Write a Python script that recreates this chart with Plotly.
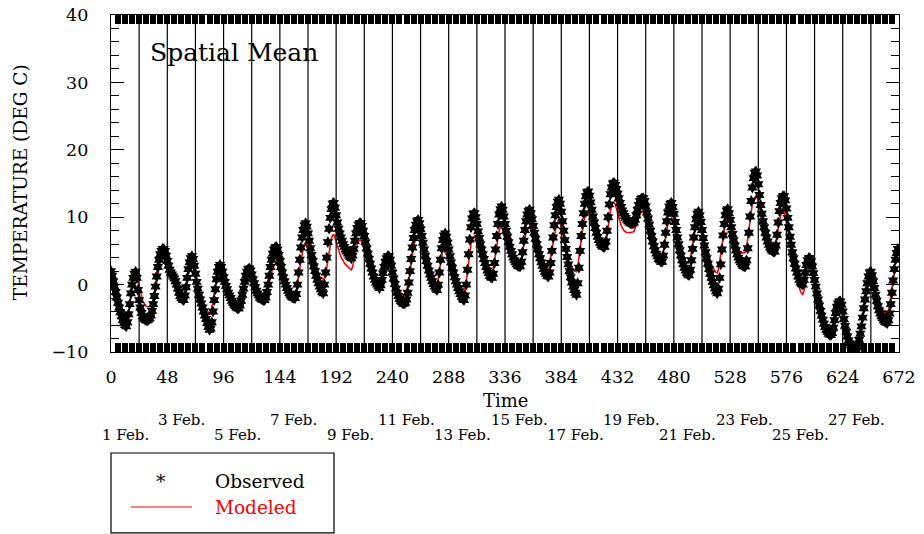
import plotly.graph_objects as go

# Hourly spatial-mean temperature (deg C), 1-28 Feb., one row per day
observed_by_day = [
    [2.0, 1.3, 0.5, -0.3, -1.1, -1.9, -2.7, -3.4, -4.1, -4.7, -5.3, -5.7, -6.0, -6.2, -5.6, -4.4, -2.9, -1.3, 0.0, 1.0, 1.6, 1.9, 1.0, -0.8],
    [-2.3, -3.4, -4.2, -4.7, -5.0, -5.2, -5.3, -5.3, -5.2, -5.0, -4.6, -3.9, -2.9, -1.7, -0.3, 1.2, 2.6, 3.7, 4.5, 5.0, 5.3, 5.3, 5.0, 4.3],
    [3.5, 2.8, 2.2, 1.8, 1.5, 1.2, 0.9, 0.5, 0.0, -0.6, -1.2, -1.7, -2.0, -2.2, -2.3, -1.6, -0.4, 1.0, 2.3, 3.3, 3.9, 4.2, 3.8, 2.8],
    [1.6, 0.4, -0.6, -1.5, -2.2, -2.8, -3.4, -4.0, -4.6, -5.1, -5.7, -6.3, -6.7, -6.5, -5.6, -4.0, -2.3, -0.7, 0.8, 1.9, 2.6, 2.9, 2.6, 1.9],
    [1.1, 0.4, -0.2, -0.7, -1.2, -1.6, -2.0, -2.4, -2.7, -3.0, -3.2, -3.4, -3.5, -3.5, -3.1, -2.4, -1.5, -0.6, 0.4, 1.3, 1.9, 2.3, 2.4, 2.1],
    [1.5, 0.8, 0.2, -0.4, -0.9, -1.3, -1.6, -1.9, -2.1, -2.2, -2.3, -2.3, -1.9, -1.1, 0.0, 1.3, 2.6, 3.7, 4.6, 5.2, 5.5, 5.6, 5.2, 4.4],
    [3.5, 2.6, 1.8, 1.1, 0.5, 0.0, -0.5, -0.9, -1.3, -1.6, -1.8, -1.9, -2.0, -2.0, -1.4, 0.0, 1.8, 3.7, 5.5, 7.0, 8.1, 8.8, 9.1, 8.6],
    [7.6, 6.5, 5.4, 4.4, 3.5, 2.7, 2.0, 1.3, 0.7, 0.2, -0.3, -0.7, -1.1, -1.3, 0.0, 1.8, 4.0, 6.3, 8.3, 9.9, 11.2, 12.0, 12.1, 11.4],
    [10.3, 9.2, 8.3, 7.6, 7.0, 6.5, 6.0, 5.6, 5.2, 4.9, 4.6, 4.3, 4.1, 3.9, 4.3, 5.3, 6.5, 7.6, 8.4, 8.9, 9.1, 9.1, 8.7, 8.0],
    [7.2, 6.3, 5.4, 4.6, 3.8, 3.1, 2.4, 1.8, 1.2, 0.7, 0.3, 0.0, -0.3, -0.5, -0.1, 0.7, 1.7, 2.6, 3.4, 3.9, 4.2, 4.2, 3.7, 2.8],
    [1.8, 0.9, 0.1, -0.6, -1.2, -1.7, -2.1, -2.4, -2.6, -2.8, -2.8, -2.7, -2.2, -1.2, 0.3, 2.0, 3.8, 5.5, 6.9, 8.1, 8.9, 9.4, 9.6, 9.1],
    [8.2, 7.2, 6.2, 5.2, 4.3, 3.5, 2.8, 2.1, 1.5, 1.0, 0.5, 0.1, -0.3, -0.6, -0.8, 0.0, 1.8, 3.7, 5.4, 6.6, 7.3, 7.6, 7.1, 6.2],
    [5.2, 4.2, 3.3, 2.5, 1.8, 1.1, 0.5, 0.0, -0.5, -1.0, -1.4, -1.8, -2.1, -2.3, -1.6, 0.0, 2.2, 4.5, 6.7, 8.5, 9.8, 10.5, 10.6, 10.0],
    [9.0, 7.9, 6.9, 6.0, 5.2, 4.5, 3.8, 3.2, 2.6, 2.1, 1.7, 1.3, 1.1, 1.0, 1.6, 3.2, 5.2, 7.2, 9.0, 10.4, 11.2, 11.6, 11.1, 10.1],
    [9.0, 8.0, 7.1, 6.3, 5.6, 5.0, 4.5, 4.0, 3.6, 3.3, 3.0, 2.8, 2.7, 2.7, 3.4, 4.8, 6.5, 8.1, 9.4, 10.4, 10.9, 11.1, 10.6, 9.7],
    [8.7, 7.7, 6.8, 6.0, 5.2, 4.5, 3.9, 3.3, 2.8, 2.3, 1.9, 1.6, 1.3, 1.2, 1.8, 3.2, 5.0, 7.0, 8.8, 10.3, 11.5, 12.3, 12.6, 12.0],
    [10.8, 9.4, 8.0, 6.6, 5.3, 4.1, 3.0, 2.0, 1.1, 0.3, -0.3, -0.8, -1.2, -1.5, 0.2, 2.5, 5.0, 7.2, 9.0, 10.6, 12.0, 13.1, 13.7, 13.8],
    [13.2, 12.2, 11.1, 10.1, 9.2, 8.4, 7.7, 7.1, 6.6, 6.2, 5.9, 5.7, 5.6, 5.6, 6.4, 8.0, 10.0, 11.9, 13.4, 14.4, 15.0, 15.1, 14.8, 14.2],
    [13.5, 12.8, 12.1, 11.5, 11.0, 10.6, 10.2, 9.9, 9.6, 9.4, 9.2, 9.1, 9.1, 9.1, 9.2, 9.6, 10.3, 11.1, 11.8, 12.4, 12.7, 12.8, 12.8, 12.4],
    [11.6, 10.7, 9.8, 8.9, 8.0, 7.2, 6.4, 5.7, 5.1, 4.6, 4.2, 3.8, 3.6, 3.4, 3.4, 4.3, 5.9, 7.7, 9.4, 10.7, 11.6, 12.0, 12.1, 11.5],
    [10.5, 9.3, 8.1, 7.0, 6.0, 5.1, 4.3, 3.6, 3.0, 2.5, 2.1, 1.7, 1.5, 1.4, 2.2, 3.6, 5.3, 7.0, 8.5, 9.7, 10.5, 10.8, 10.3, 9.3],
    [8.1, 6.9, 5.8, 4.8, 3.9, 3.1, 2.3, 1.6, 1.0, 0.4, -0.1, -0.6, -1.0, -1.3, -0.6, 1.0, 3.0, 5.2, 7.3, 9.0, 10.3, 11.0, 11.2, 10.6],
    [9.6, 8.5, 7.5, 6.6, 5.8, 5.1, 4.5, 4.0, 3.6, 3.3, 3.0, 2.8, 2.7, 2.7, 3.6, 5.4, 7.7, 10.1, 12.4, 14.4, 15.8, 16.6, 16.8, 16.2],
    [14.9, 13.3, 11.8, 10.5, 9.4, 8.5, 7.7, 7.0, 6.4, 5.9, 5.5, 5.2, 5.0, 4.9, 4.9, 5.8, 7.4, 9.2, 10.9, 12.1, 12.8, 13.1, 13.1, 12.5],
    [11.3, 9.9, 8.5, 7.1, 5.9, 4.8, 3.9, 3.1, 2.4, 1.8, 1.2, 0.7, 0.3, 0.1, 0.0, 0.7, 1.8, 2.9, 3.6, 3.9, 3.9, 3.5, 2.7, 1.7],
    [0.7, -0.3, -1.3, -2.2, -3.1, -3.9, -4.6, -5.2, -5.8, -6.3, -6.7, -7.0, -7.3, -7.4, -7.5, -7.2, -6.4, -5.3, -4.2, -3.3, -2.8, -2.5, -2.5, -3.0],
    [-4.0, -5.1, -6.1, -7.0, -7.7, -8.3, -8.7, -9.0, -9.3, -9.4, -9.5, -9.5, -9.3, -8.9, -8.2, -7.3, -6.2, -4.9, -3.5, -2.2, -1.0, 0.2, 1.2, 1.8],
    [1.9, 1.4, 0.5, -0.5, -1.5, -2.4, -3.2, -3.8, -4.3, -4.7, -5.0, -5.3, -5.5, -5.6, -5.7, -5.3, -4.3, -2.9, -1.2, 0.6, 2.3, 3.7, 4.7, 5.3],
]

modeled_by_day = [
    [1.0, 0.5, -0.1, -0.8, -1.5, -2.2, -2.9, -3.5, -4.1, -4.6, -5.0, -5.4, -5.7, -5.8, -5.3, -4.2, -2.8, -1.4, -0.2, 0.8, 1.3, 1.5, 1.2, 0.4],
    [-0.5, -1.3, -1.9, -2.4, -2.7, -3.0, -3.2, -3.3, -3.3, -3.3, -3.2, -2.9, -2.4, -1.6, -0.6, 0.6, 1.7, 2.6, 3.3, 3.7, 4.0, 4.0, 3.8, 3.3],
    [2.8, 2.4, 2.0, 1.7, 1.5, 1.2, 0.9, 0.5, 0.0, -0.5, -1.0, -1.4, -1.7, -1.9, -2.0, -1.4, -0.4, 0.7, 1.7, 2.4, 2.8, 3.0, 2.7, 2.0],
    [1.1, 0.2, -0.6, -1.3, -1.9, -2.4, -2.8, -3.1, -3.4, -3.7, -4.0, -4.2, -4.4, -4.2, -3.5, -2.4, -1.2, 0.0, 1.0, 1.7, 2.2, 2.5, 2.2, 1.7],
    [1.0, 0.4, -0.2, -0.7, -1.1, -1.5, -1.9, -2.2, -2.5, -2.8, -3.0, -3.1, -3.2, -3.2, -2.8, -2.2, -1.4, -0.5, 0.4, 1.2, 1.8, 2.1, 2.2, 1.9],
    [1.4, 0.8, 0.2, -0.3, -0.8, -1.1, -1.4, -1.7, -1.8, -1.9, -2.0, -2.0, -1.7, -1.0, -0.2, 0.7, 1.4, 2.0, 2.5, 2.8, 3.0, 3.0, 2.8, 2.4],
    [2.0, 1.6, 1.2, 0.8, 0.4, 0.1, -0.2, -0.5, -0.8, -1.0, -1.2, -1.4, -1.5, -1.5, -1.1, -0.1, 1.1, 2.4, 3.6, 4.6, 5.4, 5.9, 6.1, 5.8],
    [5.2, 4.6, 4.0, 3.5, 3.0, 2.6, 2.2, 1.9, 1.6, 1.3, 1.1, 1.0, 0.9, 0.8, 1.0, 1.5, 2.5, 3.8, 5.1, 6.2, 6.9, 7.3, 7.4, 7.0],
    [6.3, 5.7, 5.1, 4.6, 4.2, 3.8, 3.5, 3.2, 3.0, 2.8, 2.6, 2.4, 2.3, 2.2, 2.6, 3.4, 4.4, 5.3, 6.0, 6.4, 6.6, 6.6, 6.3, 5.8],
    [5.2, 4.6, 4.0, 3.4, 2.9, 2.4, 1.9, 1.5, 1.1, 0.7, 0.4, 0.1, -0.1, -0.3, 0.0, 0.6, 1.3, 2.0, 2.6, 3.0, 3.2, 3.2, 2.9, 2.3],
    [1.6, 0.9, 0.3, -0.2, -0.6, -0.9, -1.1, -1.3, -1.4, -1.5, -1.5, -1.5, -1.1, -0.3, 0.8, 2.0, 3.3, 4.5, 5.5, 6.3, 6.8, 7.0, 7.1, 6.8],
    [6.2, 5.5, 4.8, 4.1, 3.5, 2.9, 2.4, 1.9, 1.5, 1.1, 0.8, 0.6, 0.4, 0.3, 0.2, 0.8, 2.0, 3.3, 4.4, 5.1, 5.4, 5.5, 5.2, 4.6],
    [3.9, 3.2, 2.5, 1.9, 1.4, 0.9, 0.5, 0.1, -0.2, -0.5, -0.7, -0.9, -1.0, -1.0, -0.5, 0.6, 2.0, 3.5, 4.9, 6.0, 6.7, 7.0, 7.1, 6.7],
    [6.1, 5.5, 4.9, 4.4, 3.9, 3.5, 3.1, 2.8, 2.5, 2.2, 2.0, 1.8, 1.7, 1.7, 2.3, 3.5, 4.9, 6.2, 7.3, 8.0, 8.4, 8.6, 8.3, 7.7],
    [7.0, 6.3, 5.7, 5.2, 4.7, 4.3, 4.0, 3.7, 3.5, 3.4, 3.3, 3.2, 3.2, 3.2, 3.8, 4.8, 6.0, 7.0, 7.8, 8.3, 8.5, 8.6, 8.3, 7.8],
    [7.2, 6.6, 6.0, 5.5, 5.0, 4.6, 4.2, 3.8, 3.5, 3.2, 3.0, 2.8, 2.7, 2.7, 3.2, 4.2, 5.4, 6.6, 7.6, 8.4, 9.0, 9.4, 9.6, 9.2],
    [8.4, 7.5, 6.6, 5.8, 5.0, 4.3, 3.7, 3.2, 2.8, 2.5, 2.2, 2.0, 1.9, 1.9, 2.6, 4.0, 5.6, 7.1, 8.3, 9.2, 9.9, 10.3, 10.5, 10.6],
    [10.3, 9.7, 9.0, 8.4, 7.8, 7.3, 6.9, 6.5, 6.2, 5.9, 5.7, 5.5, 5.4, 5.4, 6.0, 7.2, 8.7, 10.0, 11.0, 11.7, 12.1, 12.2, 11.9, 11.3],
    [10.6, 9.9, 9.3, 8.8, 8.4, 8.1, 7.9, 7.8, 7.7, 7.7, 7.7, 7.7, 7.7, 7.8, 7.9, 8.3, 8.9, 9.5, 10.0, 10.4, 10.7, 10.8, 10.8, 10.5],
    [10.0, 9.4, 8.7, 8.0, 7.4, 6.8, 6.3, 5.8, 5.4, 5.1, 4.8, 4.6, 4.5, 4.4, 4.4, 5.0, 6.1, 7.2, 8.2, 9.0, 9.5, 9.8, 9.9, 9.5],
    [8.8, 8.0, 7.2, 6.5, 5.9, 5.3, 4.8, 4.4, 4.0, 3.7, 3.5, 3.3, 3.2, 3.2, 3.8, 4.9, 6.1, 7.2, 8.1, 8.8, 9.2, 9.4, 9.0, 8.4],
    [7.7, 7.0, 6.3, 5.6, 5.0, 4.4, 3.9, 3.4, 3.0, 2.6, 2.3, 2.0, 1.8, 1.7, 2.2, 3.4, 4.8, 6.2, 7.5, 8.5, 9.3, 9.7, 9.9, 9.5],
    [8.8, 8.1, 7.4, 6.8, 6.3, 5.9, 5.5, 5.2, 5.0, 4.8, 4.7, 4.7, 4.7, 4.8, 5.5, 6.8, 8.3, 9.8, 11.1, 12.1, 12.7, 13.0, 13.1, 13.0],
    [12.4, 11.5, 10.5, 9.6, 8.8, 8.1, 7.5, 7.0, 6.6, 6.2, 5.9, 5.7, 5.5, 5.4, 5.4, 6.1, 7.3, 8.5, 9.5, 10.2, 10.6, 10.8, 10.8, 10.3],
    [9.3, 8.1, 6.9, 5.7, 4.6, 3.6, 2.7, 1.9, 1.2, 0.6, 0.0, -0.5, -1.0, -1.3, -1.5, -0.9, 0.1, 1.0, 1.7, 2.1, 2.2, 1.9, 1.2, 0.4],
    [-0.5, -1.4, -2.3, -3.1, -3.9, -4.6, -5.2, -5.8, -6.3, -6.7, -7.0, -7.2, -7.4, -7.5, -7.5, -7.2, -6.4, -5.4, -4.4, -3.6, -3.1, -2.9, -2.8, -3.2],
    [-4.1, -5.1, -6.0, -6.8, -7.4, -7.9, -8.3, -8.6, -8.8, -8.9, -9.0, -9.0, -9.0, -8.8, -8.3, -7.5, -6.4, -5.1, -3.8, -2.6, -1.6, -0.8, -0.1, 0.3],
    [0.4, 0.1, -0.5, -1.1, -1.6, -2.1, -2.5, -2.9, -3.2, -3.5, -3.8, -4.0, -4.2, -4.3, -4.3, -3.9, -2.8, -1.4, -0.1, 0.9, 1.6, 2.1, 2.4, 2.6],
]

observed = [v for day in observed_by_day for v in day]
modeled = [v for day in modeled_by_day for v in day]
hours = list(range(len(observed)))

day_numbers = list(range(1, 29))
date_labels = [f"{d} Feb." for d in day_numbers]
x_tick_values = list(range(0, 673, 48))

SERIF = "DejaVu Serif, Liberation Serif, serif"

fig = go.Figure()

fig.add_trace(go.Scatter(
    x=hours, y=modeled, mode="lines", name="Modeled",
    line=dict(color="#ff0000", width=1.6),
))
fig.add_trace(go.Scatter(
    x=hours, y=observed, mode="markers", name="Observed",
    marker=dict(symbol="hexagram", size=9, color="black", line=dict(width=0)),
))

# daily separators
shapes = [
    dict(type="line", xref="x", yref="paper", x0=h, x1=h, y0=0, y1=1,
         line=dict(color="black", width=1.2), layer="above")
    for h in range(24, 672, 24)
]

# legend box
shapes.append(dict(type="rect", xref="paper", yref="paper",
                   x0=0.0, x1=0.283, y0=-0.537, y1=-0.2997,
                   line=dict(color="black", width=1.2), fillcolor="white"))
shapes.append(dict(type="line", xref="paper", yref="paper",
                   x0=0.0254, x1=0.1028, y0=-0.46, y1=-0.46,
                   line=dict(color="#ff0000", width=1.2)))

annotations = [
    dict(text="Spatial Mean", xref="paper", yref="paper", x=0.047, y=0.89,
         xanchor="left", yanchor="middle", showarrow=False,
         font=dict(family=SERIF, size=25, color="black")),
    dict(text="TEMPERATURE (DEG C)", xref="paper", yref="paper", x=-0.1155, y=0.504,
         textangle=-90, xanchor="center", yanchor="middle", showarrow=False,
         font=dict(family=SERIF, size=18.5, color="black")),
    dict(text="Time", xref="paper", yref="paper", x=0.5, y=-0.1454,
         xanchor="center", yanchor="middle", showarrow=False,
         font=dict(family=SERIF, size=18, color="black")),
    dict(text="*", xref="paper", yref="paper", x=0.0635, y=-0.383,
         xanchor="center", yanchor="middle", showarrow=False,
         font=dict(family=SERIF, size=19, color="black")),
    dict(text="Observed", xref="paper", yref="paper", x=0.1294, y=-0.383,
         xanchor="left", yanchor="middle", showarrow=False,
         font=dict(family=SERIF, size=18.5, color="black")),
    dict(text="Modeled", xref="paper", yref="paper", x=0.1294, y=-0.46,
         xanchor="left", yanchor="middle", showarrow=False,
         font=dict(family=SERIF, size=18.5, color="#ff0000")),
]

# date labels centred on each day, alternating between two rows
for d, label in zip(day_numbers, date_labels):
    if d % 2 == 0:
        continue
    upper = (d % 4 == 3)
    annotations.append(dict(
        text=label, xref="x", yref="paper", x=24 * (d - 1) + 12,
        y=-0.2018 if upper else -0.2463,
        xanchor="center", yanchor="middle", showarrow=False,
        font=dict(family=SERIF, size=15, color="black")))

fig.update_layout(
    width=924, height=534,
    margin=dict(l=111, r=25, t=15, b=182),
    paper_bgcolor="white", plot_bgcolor="white",
    showlegend=False,
    shapes=shapes, annotations=annotations,
    xaxis=dict(
        range=[0, 672], tickvals=x_tick_values, automargin=False,
        showgrid=False, zeroline=False,
        showline=True, linecolor="black", linewidth=1, mirror="ticks",
        ticks="inside", ticklen=9, tickwidth=6, tickcolor="black",
        minor=dict(dtick=6, ticks="inside", ticklen=9, tickwidth=6, tickcolor="black", showgrid=False),
        ticklabelstandoff=9,
        tickfont=dict(family=SERIF, size=17.5, color="black"),
    ),
    yaxis=dict(
        range=[-10, 40], dtick=10, automargin=False,
        showgrid=False, zeroline=False,
        showline=True, linecolor="black", linewidth=1.2, mirror="ticks",
        ticks="inside", ticklen=13, tickwidth=1, tickcolor="black",
        minor=dict(dtick=2, ticks="inside", ticklen=8, tickwidth=1, tickcolor="black", showgrid=False),
        ticklabelstandoff=18,
        tickfont=dict(family=SERIF, size=17.5, color="black"),
    ),
)

fig.write_html("out.html")
